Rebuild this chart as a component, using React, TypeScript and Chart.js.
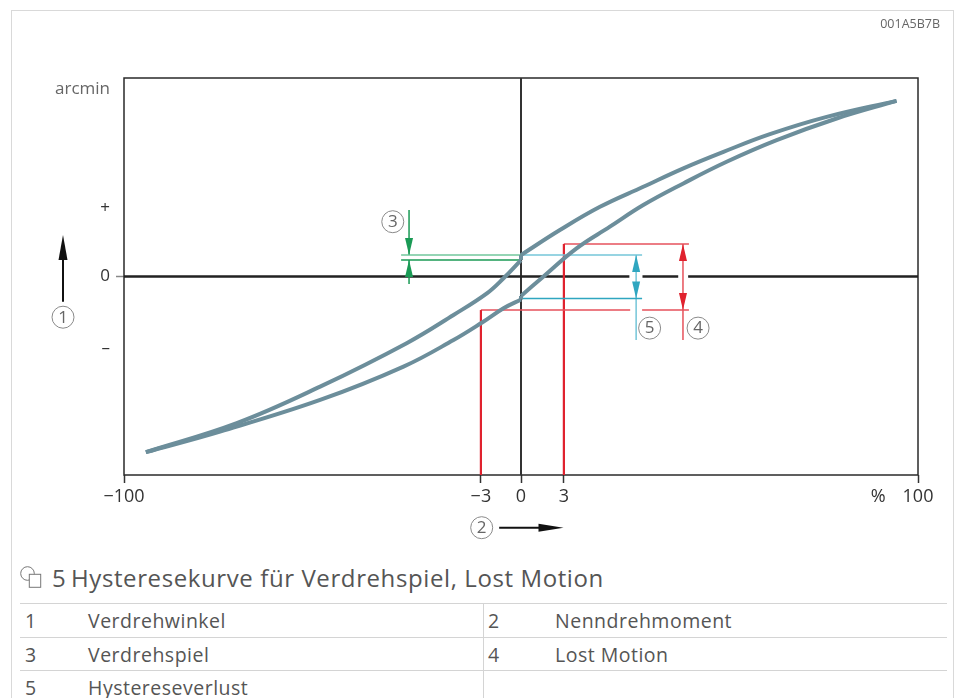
import React, { useEffect, useRef } from "react";
import { Chart, registerables } from "chart.js";

Chart.register(...registerables);

// Schematic hysteresis curve: x = rated torque (%), y = torsion angle (arcmin)
const upperLeft = [
  { x: -94.5, y: -88.5 }, { x: -71.6, y: -73.9 }, { x: -50.6, y: -55.5 },
  { x: -28.8, y: -33.6 }, { x: -17.0, y: -19.4 }, { x: -8.6, y: -8.5 },
  { x: -4.4, y: -0.9 }, { x: 0, y: 8.3 },
];
const upperRight = [
  { x: 0, y: 10.8 }, { x: 9.8, y: 23.4 }, { x: 19.9, y: 35.1 }, { x: 30.8, y: 45.2 },
  { x: 40.9, y: 54.5 }, { x: 51.0, y: 62.8 }, { x: 62.7, y: 71.7 }, { x: 77.0, y: 80.4 },
  { x: 94.6, y: 88.5 },
];
const lowerLeft = [
  { x: -94.5, y: -88.5 }, { x: -75.8, y: -78.1 }, { x: -50.6, y: -62.2 },
  { x: -29.6, y: -45.4 }, { x: -17.0, y: -32.0 }, { x: -9.9, y: -23.3 },
  { x: -4.4, y: -16.0 }, { x: 0, y: -11.6 },
];
const lowerRight = [
  { x: 0, y: -9.8 }, { x: 5.6, y: -0.1 }, { x: 14.0, y: 14.2 }, { x: 22.4, y: 25.1 },
  { x: 30.8, y: 36.0 }, { x: 40.9, y: 46.9 }, { x: 51.8, y: 57.8 }, { x: 64.4, y: 68.7 },
  { x: 79.5, y: 79.6 }, { x: 94.6, y: 88.5 },
];
const upperKink = [{ x: 0, y: 8.3 }, { x: 0, y: 10.8 }];
const lowerKink = [{ x: 0, y: -11.6 }, { x: 0, y: -9.8 }];

// Axis ticks (schematic positions)
const xTickValues = [-100, -10.1, 0, 10.8, 100];
const xTickLabels = ["\u2212100", "\u22123", "0", "3", "100"];
const yTickValues = [-36, 0, 34.5, 94.4];
const yTickLabels = ["\u2013", "0", "+", "arcmin"];

// Dimension lines
const zeroAxis = [
  { x: -100, y: 0 }, { x: 27.3, y: 0 }, { x: 29, y: null }, { x: 30.6, y: 0 },
  { x: 39.6, y: 0 }, { x: 41, y: null }, { x: 42.1, y: 0 }, { x: 100, y: 0 },
];
const verticalAxis = [{ x: 0, y: -100 }, { x: 0, y: 100 }];
const greenTop = [{ x: -30.2, y: 10.8 }, { x: 0, y: 10.8 }];
const greenBottom = [{ x: -30.2, y: 8.3 }, { x: 0, y: 8.3 }];
const greenArrowUpper = [{ x: -28.2, y: 33.5 }, { x: -28.2, y: 10.8 }];
const greenArrowLower = [{ x: -28.2, y: 8.3 }, { x: -28.2, y: -3.8 }];
const cyanTop = [{ x: 0, y: 10.8 }, { x: 30.5, y: 10.8 }];
const cyanBottom = [{ x: 0, y: -11.1 }, { x: 30.5, y: -11.1 }];
const cyanArrow = [{ x: 29.0, y: 10.8 }, { x: 29.0, y: -32.0 }];
const redLeftV = [{ x: -10.1, y: -100 }, { x: -10.1, y: -16.9 }];
const redLeftH = [
  { x: -10.1, y: -16.9 }, { x: 27.5, y: -16.9 }, { x: 29, y: null },
  { x: 30.5, y: -16.9 }, { x: 42.3, y: -16.9 },
];
const redRightV = [{ x: 10.8, y: -100 }, { x: 10.8, y: 16.4 }];
const redRightH = [{ x: 10.8, y: 16.4 }, { x: 42.3, y: 16.4 }];
const redArrow = [{ x: 40.8, y: 16.4 }, { x: 40.8, y: -32.0 }];

const GREEN = "#1a9a55";
const GREEN_LIGHT = "#72c79d";
const CYAN = "#2fa6c0";
const CYAN_LIGHT = "#74c6d8";
const RED = "#e0222e";
const RED_LIGHT = "#e6525c";
const CURVE = "#6c8e9b";

const arrowHeads = [
  { x: -28.2, y: 10.8, up: false, color: GREEN },
  { x: -28.2, y: 8.3, up: true, color: GREEN },
  { x: 29.0, y: 10.8, up: true, color: CYAN },
  { x: 29.0, y: -11.1, up: false, color: CYAN },
  { x: 40.8, y: 16.4, up: true, color: RED },
  { x: 40.8, y: -16.9, up: false, color: RED },
];
const circleLabels = [
  { n: "3", x: -32.3, y: 27.6 },
  { n: "5", x: 32.4, y: -26.0 },
  { n: "4", x: 44.6, y: -26.0 },
];
const yArrow = { label: "1", from: -12.7, to: 20.9, circleY: -20.5 };
const xArrow = { label: "2", from: -5.5, to: 10.7, circleX: -9.9 };
const percentAt = 90;

const legendRows = [
  ["1", "Verdrehwinkel", "2", "Nenndrehmoment"],
  ["3", "Verdrehspiel", "4", "Lost Motion"],
  ["5", "Hystereseverlust", "", ""],
];

const FONT = "'Open Sans', sans-serif";

function line(data: any[], color: string, width: number, extra: any = {}) {
  return {
    data,
    borderColor: color,
    borderWidth: width,
    pointRadius: 0,
    fill: false,
    tension: 0,
    spanGaps: false,
    borderCapStyle: "butt",
    ...extra,
  };
}

function circled(ctx: CanvasRenderingContext2D, cx: number, cy: number, n: string) {
  ctx.save();
  ctx.beginPath();
  ctx.arc(cx, cy, 11, 0, Math.PI * 2);
  ctx.strokeStyle = "#8a8a8a";
  ctx.lineWidth = 1;
  ctx.stroke();
  ctx.fillStyle = "#666";
  ctx.font = "17px 'Open Sans'";
  ctx.textAlign = "center";
  ctx.textBaseline = "middle";
  ctx.fillText(n, cx, cy + 0.5);
  ctx.restore();
}

const overlay = {
  id: "overlay",
  beforeDatasetsDraw(chart: any) {
    const { ctx, chartArea: a } = chart;
    ctx.save();
    ctx.strokeStyle = "#2a2a2a";
    ctx.lineWidth = 1.5;
    ctx.strokeRect(a.left, a.top, a.right - a.left, a.bottom - a.top);
    ctx.restore();
  },
  afterDatasetsDraw(chart: any) {
    const { ctx, chartArea: a, scales } = chart;
    const xs = scales.x;
    const ys = scales.y;
    ctx.save();
    arrowHeads.forEach((h) => {
      const px = xs.getPixelForValue(h.x);
      const py = ys.getPixelForValue(h.y);
      const base = py + (h.up ? 17 : -17);
      ctx.beginPath();
      ctx.moveTo(px, py);
      ctx.lineTo(px - 4, base);
      ctx.lineTo(px + 4, base);
      ctx.closePath();
      ctx.fillStyle = h.color;
      ctx.fill();
    });
    circleLabels.forEach((c) =>
      circled(ctx, xs.getPixelForValue(c.x), ys.getPixelForValue(c.y), c.n)
    );
    // y direction arrow
    const ax = a.left - 61;
    const yTop = ys.getPixelForValue(yArrow.to);
    const yBot = ys.getPixelForValue(yArrow.from);
    ctx.strokeStyle = "#111";
    ctx.fillStyle = "#111";
    ctx.lineWidth = 2;
    ctx.beginPath();
    ctx.moveTo(ax, yBot);
    ctx.lineTo(ax, yTop + 20);
    ctx.stroke();
    ctx.beginPath();
    ctx.moveTo(ax, yTop);
    ctx.lineTo(ax - 4.5, yTop + 25);
    ctx.lineTo(ax + 4.5, yTop + 25);
    ctx.closePath();
    ctx.fill();
    circled(ctx, ax, ys.getPixelForValue(yArrow.circleY), yArrow.label);
    // x direction arrow
    const ay = a.bottom + 52.7;
    const xL = xs.getPixelForValue(xArrow.from);
    const xR = xs.getPixelForValue(xArrow.to);
    ctx.beginPath();
    ctx.moveTo(xL, ay);
    ctx.lineTo(xR - 20, ay);
    ctx.stroke();
    ctx.beginPath();
    ctx.moveTo(xR, ay);
    ctx.lineTo(xR - 25, ay - 4);
    ctx.lineTo(xR - 25, ay + 4);
    ctx.closePath();
    ctx.fill();
    circled(ctx, xs.getPixelForValue(xArrow.circleX), ay, xArrow.label);
    // percent unit
    ctx.fillStyle = "#333";
    ctx.font = "18px 'Open Sans'";
    ctx.textAlign = "center";
    ctx.textBaseline = "middle";
    ctx.fillText("%", xs.getPixelForValue(percentAt), a.bottom + 8 + 3 + 10.8);
    ctx.restore();
  },
};

export default function App() {
  const ref = useRef<HTMLCanvasElement>(null);

  useEffect(() => {
    if (!ref.current) return;
    const curveStyle = { tension: 0.4 };
    const chart = new Chart(ref.current, {
      type: "line",
      data: {
        datasets: [
          line(upperLeft, CURVE, 4, curveStyle),
          line(upperRight, CURVE, 4, curveStyle),
          line(lowerLeft, CURVE, 4, curveStyle),
          line(lowerRight, CURVE, 4, curveStyle),
          line(upperKink, CURVE, 4),
          line(lowerKink, CURVE, 4),
          line(greenTop, GREEN_LIGHT, 1.5),
          line(greenBottom, GREEN, 1.5),
          line(greenArrowUpper, GREEN, 1.5),
          line(greenArrowLower, GREEN, 1.5),
          line(cyanTop, CYAN_LIGHT, 1.5),
          line(cyanBottom, CYAN, 1.5),
          line(cyanArrow, CYAN_LIGHT, 1.5),
          line(redLeftV, RED, 2.2),
          line(redLeftH, RED_LIGHT, 1.5),
          line(redRightV, RED, 2.2),
          line(redRightH, RED_LIGHT, 1.5),
          line(redArrow, RED_LIGHT, 1.5),
          line(zeroAxis, "#222", 2.5),
          line(verticalAxis, "#333", 2),
        ] as any,
      },
      options: {
        animation: false,
        responsive: false,
        devicePixelRatio: 1,
        layout: { padding: { left: 0, right: 44, top: 78, bottom: 45 } },
        plugins: { legend: { display: false }, tooltip: { enabled: false } },
        events: [],
        scales: {
          x: {
            type: "linear",
            min: -100,
            max: 100,
            afterBuildTicks: (s: any) => {
              s.ticks = xTickValues.map((v) => ({ value: v }));
            },
            afterFit: (s: any) => {
              s.height = 40;
            },
            border: { display: false },
            grid: {
              drawOnChartArea: false,
              tickLength: 8,
              tickColor: "#333",
              tickWidth: 1.5,
            },
            ticks: {
              autoSkip: false,
              maxRotation: 0,
              padding: 3,
              color: "#333",
              font: { family: FONT, size: 18 },
              callback: (_v: any, i: number) => xTickLabels[i],
            },
          },
          y: {
            type: "linear",
            min: -100,
            max: 100,
            afterBuildTicks: (s: any) => {
              s.ticks = yTickValues.map((v) => ({ value: v }));
            },
            afterFit: (s: any) => {
              s.width = 124;
            },
            border: { display: false },
            grid: {
              drawOnChartArea: false,
              tickLength: 8,
              tickWidth: 1.5,
              tickColor: (c: any) =>
                c.tick && c.tick.value === 0 ? "#888" : "rgba(0,0,0,0)",
            },
            ticks: {
              autoSkip: false,
              padding: 6,
              color: (c: any) => (c.index === 3 ? "#666" : "#333"),
              font: { family: FONT, size: 17 },
              callback: (_v: any, i: number) => yTickLabels[i],
            },
          },
        },
      } as any,
      plugins: [overlay],
    });
    return () => chart.destroy();
  }, []);

  const rowTop = 603.3;
  const rowH = 33.3;

  return (
    <div
      style={{
        position: "absolute",
        left: 0,
        top: 0,
        width: 962,
        height: 698,
        overflow: "hidden",
        background: "#fff",
        fontFamily: FONT,
      }}
    >
      <div
        style={{
          position: "absolute",
          left: 11,
          top: 10,
          width: 943,
          height: 760,
          border: "1px solid #d9d9d9",
          boxSizing: "border-box",
        }}
      />
      <canvas
        ref={ref}
        width={962}
        height={560}
        style={{ position: "absolute", left: 0, top: 0, width: 962, height: 560 }}
      />
      <div
        style={{
          position: "absolute",
          right: 22,
          top: 15,
          fontSize: 12.5,
          color: "#666",
          lineHeight: "normal",
        }}
      >
        001A5B7B
      </div>
      <svg
        width={30}
        height={30}
        style={{ position: "absolute", left: 18, top: 564 }}
        viewBox="0 0 30 30"
      >
        <circle cx={9.5} cy={9.5} r={6.8} fill="none" stroke="#777" strokeWidth={1} />
        <rect x={11.3} y={10.3} width={11.4} height={13} fill="#fff" stroke="#777" strokeWidth={1} />
      </svg>
      <div
        style={{
          position: "absolute",
          left: 52,
          top: 561,
          fontSize: 24,
          color: "#555",
          lineHeight: "normal",
          whiteSpace: "nowrap",
        }}
      >
        5
      </div>
      <div
        style={{
          position: "absolute",
          left: 71,
          top: 561,
          fontSize: 24,
          letterSpacing: 0.6,
          color: "#555",
          lineHeight: "normal",
          whiteSpace: "nowrap",
        }}
      >
        Hysteresekurve für Verdrehspiel, Lost Motion
      </div>
      {legendRows.map((r, i) => (
        <div
          key={i}
          style={{
            position: "absolute",
            left: 20,
            top: rowTop + i * rowH,
            width: 927,
            height: rowH,
            borderTop: "1.5px solid #d4d4d4",
            boxSizing: "border-box",
            fontSize: 19.5,
            letterSpacing: 0.5,
            color: "#555",
            lineHeight: "normal",
          }}
        >
          <span style={{ position: "absolute", left: 5, top: 3 }}>{r[0]}</span>
          <span style={{ position: "absolute", left: 68, top: 3 }}>{r[1]}</span>
          <span style={{ position: "absolute", left: 468, top: 3 }}>{r[2]}</span>
          <span style={{ position: "absolute", left: 535, top: 3 }}>{r[3]}</span>
        </div>
      ))}
      <div
        style={{
          position: "absolute",
          left: 483,
          top: rowTop,
          width: 0,
          height: 120,
          borderLeft: "1.5px solid #d4d4d4",
        }}
      />
    </div>
  );
}
